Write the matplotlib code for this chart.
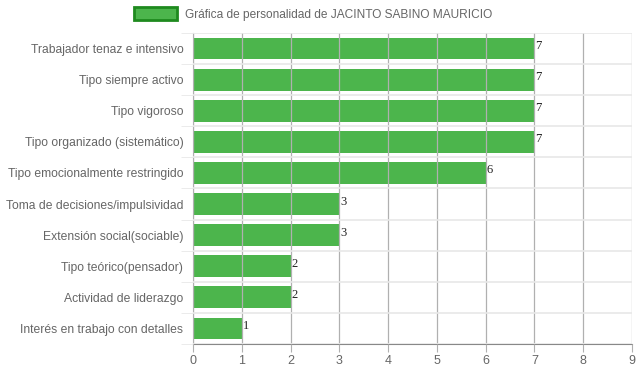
import matplotlib.pyplot as plt
from matplotlib.patches import Patch
from matplotlib.ticker import MultipleLocator

# Chart data
CATEGORIES = [
    'Trabajador tenaz e intensivo',
    'Tipo siempre activo',
    'Tipo vigoroso',
    'Tipo organizado (sistemático)',
    'Tipo emocionalmente restringido',
    'Toma de decisiones/impulsividad',
    'Extensión social(sociable)',
    'Tipo teórico(pensador)',
    'Actividad de liderazgo',
    'Interés en trabajo con detalles',
]
VALUES = [7, 7, 7, 7, 6, 3, 3, 2, 2, 1]
TITLE = 'Gráfica de personalidad de JACINTO SABINO MAURICIO'

BAR_COLOR = '#4cb54c'
EDGE_COLOR = '#1e8a1e'
TEXT_COLOR = '#666666'

plt.rcParams['font.family'] = ['Liberation Sans', 'DejaVu Sans']

fig = plt.figure(figsize=(6.39, 3.72), dpi=100)
ax = fig.add_axes([193 / 639, 1 - 344 / 372, 439 / 639, 311 / 372])

n = len(CATEGORIES)
ypos = list(range(n))
ax.barh(ypos, VALUES, height=0.7, color=BAR_COLOR, zorder=2)

# value labels next to the bar ends
for y, v in zip(ypos, VALUES):
    ax.text(v + 0.02, y - 0.08, str(v), family='Liberation Serif', fontsize=9,
            color='#222222', ha='left', va='center', zorder=4)

ax.set_xlim(0, 9)
ax.set_ylim(n - 0.5, -0.5)
ax.xaxis.set_major_locator(MultipleLocator(1))
ax.set_yticks(ypos)
ax.set_yticklabels(CATEGORIES)
ax.set_yticks([i + 0.5 for i in range(-1, n)], minor=True)

# vertical grid drawn over bars, light horizontal separators
ax.grid(axis='x', which='major', color='#b0b0b0', linewidth=0.9, zorder=3)
ax.grid(axis='y', which='minor', color='#e8e8e8', linewidth=1.2, zorder=1)
ax.set_axisbelow(False)

ax.tick_params(axis='x', which='major', length=6, color='#b0b0b0',
               labelcolor=TEXT_COLOR, labelsize=9, pad=2)
ax.tick_params(axis='y', which='major', length=0, labelcolor=TEXT_COLOR,
               labelsize=8.7, pad=7)
ax.tick_params(axis='y', which='minor', length=9, color='#e8e8e8')

for side in ['top', 'right']:
    ax.spines[side].set_visible(False)
ax.spines['left'].set_color('#b0b0b0')
ax.spines['bottom'].set_color('#888888')

handle = Patch(facecolor=BAR_COLOR, edgecolor=EDGE_COLOR, linewidth=2)
fig.legend([handle], [TITLE], loc='center',
           bbox_to_anchor=((320 - 7) / 639, 1 - 14 / 372),
           frameon=False, fontsize=8.6, labelcolor=TEXT_COLOR,
           handlelength=3.6, handleheight=1.2, handletextpad=0.7)

fig.savefig('out.png', dpi=100)
